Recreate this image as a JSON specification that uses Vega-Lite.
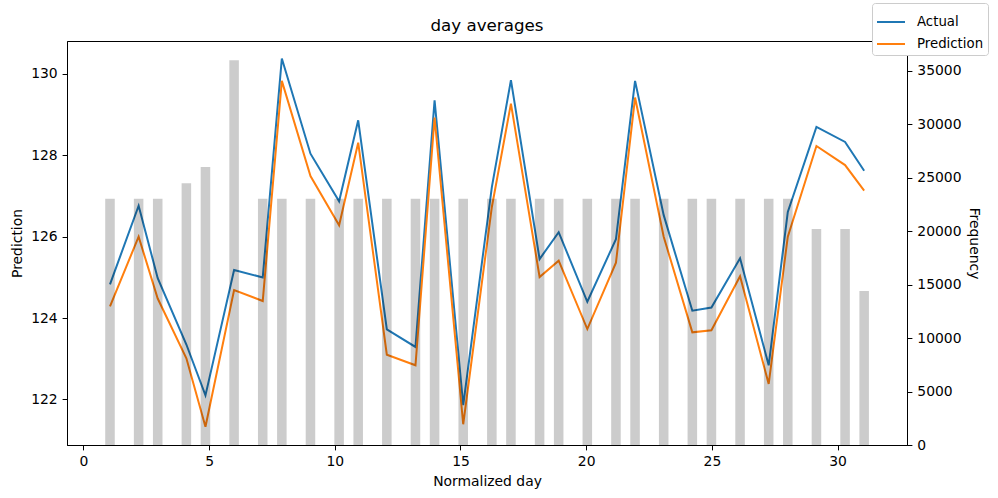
{
  "$schema": "https://vega.github.io/schema/vega-lite/v6.json",
  "autosize": {"type": "none"},
  "width": 840,
  "height": 404,
  "padding": {"left": 67, "top": 41, "right": 91, "bottom": 53},
  "title": {"text": "day averages", "fontSize": 16.7, "fontWeight": "normal", "font": "DejaVu Sans", "color": "black", "offset": -32, "anchor": "middle"},
  "datasets": {
    "bars": [
      {"start": 0.870, "end": 1.250, "count": 23050},
      {"start": 2.009, "end": 2.389, "count": 23050},
      {"start": 2.768, "end": 3.148, "count": 23050},
      {"start": 3.908, "end": 4.288, "count": 24500},
      {"start": 4.667, "end": 5.047, "count": 26000},
      {"start": 5.806, "end": 6.186, "count": 36000},
      {"start": 6.945, "end": 7.325, "count": 23050},
      {"start": 7.705, "end": 8.085, "count": 23050},
      {"start": 8.844, "end": 9.224, "count": 23050},
      {"start": 9.983, "end": 10.363, "count": 23050},
      {"start": 10.742, "end": 11.122, "count": 23050},
      {"start": 11.881, "end": 12.261, "count": 23050},
      {"start": 13.020, "end": 13.400, "count": 23050},
      {"start": 13.780, "end": 14.160, "count": 23050},
      {"start": 14.919, "end": 15.299, "count": 23050},
      {"start": 16.058, "end": 16.438, "count": 23050},
      {"start": 16.817, "end": 17.197, "count": 23050},
      {"start": 17.957, "end": 18.337, "count": 23050},
      {"start": 18.716, "end": 19.096, "count": 23050},
      {"start": 19.855, "end": 20.235, "count": 23050},
      {"start": 20.994, "end": 21.374, "count": 23050},
      {"start": 21.754, "end": 22.134, "count": 23050},
      {"start": 22.893, "end": 23.273, "count": 23050},
      {"start": 24.032, "end": 24.412, "count": 23050},
      {"start": 24.791, "end": 25.171, "count": 23050},
      {"start": 25.930, "end": 26.310, "count": 23050},
      {"start": 27.069, "end": 27.449, "count": 23050},
      {"start": 27.829, "end": 28.209, "count": 23050},
      {"start": 28.968, "end": 29.348, "count": 20200},
      {"start": 30.107, "end": 30.487, "count": 20200},
      {"start": 30.866, "end": 31.246, "count": 14400}
    ],
    "lines": [
      {"day": 1.060, "Actual": 124.83, "Prediction": 124.29},
      {"day": 2.199, "Actual": 126.76, "Prediction": 126.00},
      {"day": 2.958, "Actual": 124.98, "Prediction": 124.48},
      {"day": 4.098, "Actual": 123.35, "Prediction": 123.01},
      {"day": 4.857, "Actual": 122.10, "Prediction": 121.33},
      {"day": 5.996, "Actual": 125.18, "Prediction": 124.69},
      {"day": 7.135, "Actual": 125.00, "Prediction": 124.42},
      {"day": 7.895, "Actual": 130.38, "Prediction": 129.83},
      {"day": 9.034, "Actual": 128.04, "Prediction": 127.49},
      {"day": 10.173, "Actual": 126.87, "Prediction": 126.28},
      {"day": 10.932, "Actual": 128.86, "Prediction": 128.31},
      {"day": 12.071, "Actual": 123.72, "Prediction": 123.10},
      {"day": 13.210, "Actual": 123.29, "Prediction": 122.84},
      {"day": 13.970, "Actual": 129.35, "Prediction": 128.93},
      {"day": 15.109, "Actual": 121.86, "Prediction": 121.39},
      {"day": 16.248, "Actual": 127.22, "Prediction": 126.73},
      {"day": 17.007, "Actual": 129.85, "Prediction": 129.27},
      {"day": 18.147, "Actual": 125.45, "Prediction": 125.01},
      {"day": 18.906, "Actual": 126.11, "Prediction": 125.41},
      {"day": 20.045, "Actual": 124.40, "Prediction": 123.73},
      {"day": 21.184, "Actual": 125.94, "Prediction": 125.36},
      {"day": 21.944, "Actual": 129.83, "Prediction": 129.42},
      {"day": 23.083, "Actual": 126.53, "Prediction": 126.00},
      {"day": 24.222, "Actual": 124.18, "Prediction": 123.65},
      {"day": 24.981, "Actual": 124.26, "Prediction": 123.70},
      {"day": 26.120, "Actual": 125.47, "Prediction": 125.03},
      {"day": 27.259, "Actual": 122.84, "Prediction": 122.38},
      {"day": 28.019, "Actual": 126.61, "Prediction": 126.00},
      {"day": 29.158, "Actual": 128.70, "Prediction": 128.23},
      {"day": 30.297, "Actual": 128.33, "Prediction": 127.76},
      {"day": 31.056, "Actual": 127.62, "Prediction": 127.13}
    ]
  },
  "layer": [
    {
      "data": {"name": "lines"},
      "transform": [{"fold": ["Actual", "Prediction"], "as": ["series", "value"]}],
      "mark": {"type": "line", "strokeWidth": 2, "clip": true},
      "encoding": {
        "x": {"field": "day", "type": "quantitative", "scale": {"domain": [-0.65, 32.76], "nice": false, "zero": false},
              "axis": {"title": "Normalized day", "values": [0, 5, 10, 15, 20, 25, 30]}},
        "y": {"field": "value", "type": "quantitative", "scale": {"domain": [120.88, 130.81], "nice": false, "zero": false},
              "axis": {"title": "Prediction", "orient": "left", "values": [122, 124, 126, 128, 130]}},
        "color": {"field": "series", "type": "nominal", "scale": {"domain": ["Actual", "Prediction"], "range": ["#1f77b4", "#ff7f0e"]},
                  "legend": {"title": null, "orient": "none", "legendX": 805, "legendY": -38, "symbolType": "stroke", "symbolSize": 784, "symbolStrokeWidth": 2,
                             "labelFontSize": 13.3, "labelFont": "DejaVu Sans", "labelColor": "black", "fillColor": "white", "strokeColor": "#cccccc",
                             "cornerRadius": 3, "padding": 4, "rowPadding": -6, "labelOffset": 11}},
        "detail": {"field": "series"}
      }
    },
    {
      "data": {"name": "bars"},
      "mark": {"type": "rect", "color": "black", "opacity": 0.2},
      "encoding": {
        "x": {"field": "start", "type": "quantitative", "scale": {"domain": [-0.65, 32.76], "nice": false, "zero": false}},
        "x2": {"field": "end"},
        "y": {"field": "count", "type": "quantitative", "scale": {"domain": [0, 37800], "nice": false},
              "axis": {"title": "Frequency", "orient": "right", "values": [0, 5000, 10000, 15000, 20000, 25000, 30000, 35000], "format": "d"}},
        "y2": {"datum": 0}
      }
    }
  ],
  "resolve": {"scale": {"y": "independent"}, "axis": {"y": "independent"}},
  "config": {
    "font": "DejaVu Sans",
    "view": {"stroke": "black", "strokeWidth": 1},
    "axis": {
      "grid": false,
      "domainColor": "black",
      "tickColor": "black",
      "tickSize": 4.9,
      "labelColor": "black",
      "titleColor": "black",
      "labelFont": "DejaVu Sans",
      "titleFont": "DejaVu Sans",
      "labelFontSize": 13.9,
      "titleFontSize": 13.9,
      "titleFontWeight": "normal",
      "labelPadding": 4.9,
      "titlePadding": 6
    }
  }
}
